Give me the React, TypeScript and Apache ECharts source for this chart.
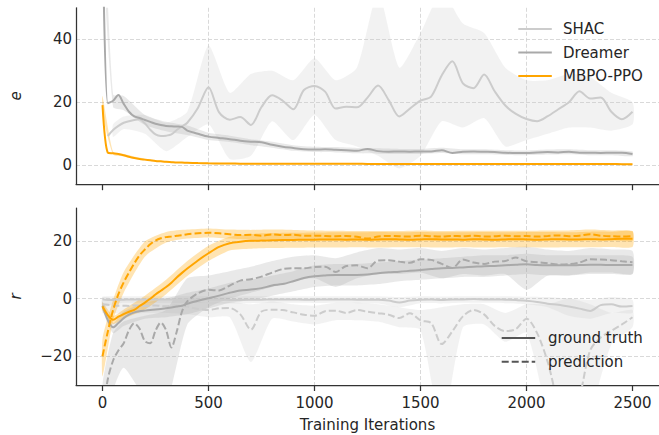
import React, { useEffect, useRef } from "react";
import * as echarts from "echarts";

// ---------- data ----------
const ITERS = [0, 25, 50, 75, 100, 125, 150, 175, 200, 225, 250, 275, 300, 325, 350, 375, 400,
  450, 500, 550, 600, 650, 700, 750, 800, 850, 900, 950, 1000, 1050, 1100, 1150, 1200, 1250, 1300, 1350, 1400, 1450, 1500, 1550, 1600, 1650, 1700, 1750, 1800, 1850, 1900, 1950, 2000, 2050, 2100, 2150, 2200, 2250, 2300, 2350, 2400, 2450, 2500];

const X_TICKS = [0, 500, 1000, 1500, 2000, 2500];
const METHODS = ["SHAC", "Dreamer", "MBPO-PPO"];
const KINDS = ["ground truth", "prediction"];

// top panel: e
const SHAC_E = [null, 9.3, 11.2, 12.5, 13.5, 14.0, 14.4, 14.6, 13.3, 11.3, 9.8, 9.3, 9.4, 9.8, 11.2, 12.4, 13.5,
  18.2, 24.8, 16.8, 14.5, 15.3, 12.8, 18.5, 22.2, 20.5, 17.8, 23.9, 25.2, 23.4, 18.0, 18.6, 18.4, 21.5, 25.3, 20.7, 15.5, 18.0, 20.5, 21.8, 28.5, 33.0, 26.0, 24.5, 28.8, 23.5, 19.0, 16.3, 14.7, 14.0, 15.6, 17.8, 20.0, 23.5, 21.2, 21.5, 17.0, 14.6, 17.0];
const DREAMER_E = [80, 19.7, 20.5, 22.3, 19.5, 17.0, 15.5, 15.0, 14.4, 13.8, 13.2, 12.8, 12.5, 12.4, 12.3, 12.2, 11.0,
  10.0, 9.1, 8.7, 8.3, 7.8, 7.5, 7.3, 6.5, 5.9, 5.5, 5.1, 5.0, 5.1, 4.9, 4.8, 4.6, 5.2, 4.5, 4.3, 4.4, 4.3, 4.4, 4.4, 4.8, 3.9, 4.3, 4.4, 4.3, 4.2, 4.0, 3.9, 3.9, 4.1, 4.2, 4.1, 4.3, 4.0, 4.0, 3.9, 4.0, 4.0, 3.6];
const MBPO_E = [19.1, 4.0, 3.8, 3.6, 3.2, 2.7, 2.3, 2.0, 1.8, 1.6, 1.4, 1.25, 1.1, 1.0, 0.9, 0.85, 0.8,
  0.7, 0.62, 0.58, 0.55, 0.52, 0.5, 0.5, 0.5, 0.5, 0.5, 0.48, 0.48, 0.47, 0.47, 0.46, 0.46, 0.45, 0.45, 0.45, 0.44, 0.44, 0.43, 0.43, 0.43, 0.42, 0.42, 0.42, 0.41, 0.41, 0.41, 0.4, 0.4, 0.4, 0.4, 0.39, 0.39, 0.39, 0.38, 0.38, 0.38, 0.37, 0.37];

// bottom panel: r
const MBPO_R_GT = [-2.8, -5.8, -7.4, -6.3, -5.4, -4.6, -3.9, -2.6, -1.4, -0.1, 1.4, 2.7, 4.0, 5.5, 7.3, 8.9, 10.4,
  13.2, 15.7, 17.9, 19.2, 19.7, 20.0, 20.1, 20.2, 20.3, 20.3, 20.4, 20.4, 20.5, 20.5, 20.4, 20.5, 20.4, 20.5, 20.6, 20.5, 20.4, 20.5, 20.6, 20.5, 20.5, 20.4, 20.6, 20.5, 20.4, 20.5, 20.6, 20.5, 20.4, 20.5, 20.6, 20.5, 20.5, 20.6, 20.5, 20.6, 20.7, 20.7];
const MBPO_R_PRED = [-20, -11.5, -4.0, 1.5, 5.6, 9.0, 12.2, 15.0, 17.0, 18.8, 20.1, 20.9, 21.3, 21.5, 21.8, 22.0, 22.3,
  22.6, 22.8, 22.6, 22.3, 22.0, 22.1, 21.8, 22.2, 22.0, 22.1, 21.8, 21.8, 21.7, 21.6, 21.7, 21.4, 20.8, 21.5, 21.7, 21.6, 21.5, 21.8, 21.6, 21.5, 21.7, 21.6, 21.8, 21.5, 21.6, 21.8, 21.6, 21.7, 21.5, 21.7, 21.9, 21.6, 21.8, 22.3, 21.8, 21.6, 21.5, 21.6];
const DREAMER_R_GT = [-2.5, -7.5, -10.0, -8.5, -6.8, -5.6, -4.8, -4.4, -4.2, -4.0, -3.8, -3.6, -3.4, -3.1, -2.8, -2.5, -1.8,
  -0.8, 0.1, 1.0, 2.0, 2.8, 3.1, 3.6, 4.5, 5.0, 6.0, 7.1, 7.7, 8.0, 8.2, 8.2, 8.2, 8.3, 8.8, 9.1, 9.3, 9.6, 9.9, 10.2, 10.5, 10.6, 10.8, 11.0, 11.2, 11.3, 11.5, 11.7, 11.9, 11.6, 11.5, 11.5, 11.5, 11.6, 11.7, 11.7, 11.6, 11.6, 11.6];
const DREAMER_R_PRED = [-40, -28, -21.5, -18.0, -15.5, -11.0, -8.6, -10.5, -14.8, -15.5, -11.2, -8.3, -11.0, -17.0, -11.5, -4.5, -1.0,
  1.8, 3.0, 2.8, 4.5, 6.2, 6.7, 7.6, 9.0, 10.2, 10.5, 10.5, 10.9, 11.0, 9.2, 11.3, 11.5, 10.5, 13.2, 13.3, 12.8, 12.4, 13.6, 13.4, 12.0, 10.6, 13.5, 12.5, 12.0, 12.8, 13.0, 14.2, 12.9, 12.6, 12.2, 11.8, 11.9, 12.5, 13.6, 13.5, 13.3, 12.9, 12.6];
const SHAC_R_GT = [-0.3, -0.5, -0.5, -0.4, -0.4, -0.3, -0.3, -0.3, -0.3, -0.3, -0.3, -0.3, -0.3, -0.3, -0.3, -0.3, -0.3,
  -0.3, -0.4, -0.4, -0.5, -0.5, -0.4, -0.4, -0.3, -0.3, -0.3, -0.4, -0.4, -0.3, -0.3, -0.3, -0.4, -0.4, -0.4, -0.7, -1.4, -0.7, -0.4, -0.3, -0.5, -0.3, -0.3, -0.2, -0.3, -0.3, -0.4, -0.5, -0.8, -1.2, -1.8, -2.2, -2.8, -3.5, -4.3, -2.3, -2.0, -2.8, -2.6];
const SHAC_R_PRED = [-2.0, -2.2, -2.4, -2.5, -2.5, -2.6, -2.4, -2.5, -2.6, -2.5, -2.4, -2.6, -2.7, -2.5, -2.4, -2.6, -2.8,
  -3.6, -4.0, -3.4, -3.3, -5.5, -10.8, -4.5, -3.9, -4.0, -4.8, -5.6, -6.0, -4.4, -4.2, -5.0, -4.0, -4.6, -5.1, -5.6, -6.8, -5.1, -7.6, -8.5, -15.8, -11.4, -6.2, -4.0, -5.5, -9.5, -11.3, -10.6, -7.0, -12.0, -22.0, -36.0, -42.0, -34.0, -18.0, -13.5, -11.2, -9.0, -6.5];

// shaded bands (lower / upper)
const BAND_ITERS = [0, 50, 100, 200, 300, 400, 500, 600, 700, 800, 900, 1000, 1100, 1200, 1300, 1400, 1500, 1600, 1700, 1800, 1900, 2000, 2100, 2200, 2300, 2400, 2500];

const SHAC_E_LO = [null, 9, 11.5, 10, 4.5, 9, 13, 2, 3, 14, 8, 16, 8, 6, 3, -1, 3, 14, 12, 15, 6, 8, 10, 12, 12, 11, 13];
const SHAC_E_HI = [null, 13, 15.5, 16, 13.5, 17, 38, 23, 29, 30, 27, 34, 27, 31, 55, 31, 42, 55, 45, 42, 31, 27, 27, 29, 28, 23, 20];
const DREAMER_E_LO = [70, 18.5, 17.5, 12.8, 10.8, 9.6, 8.0, 7.4, 6.4, 5.6, 4.6, 4.2, 4.1, 3.8, 3.7, 3.6, 3.6, 3.9, 3.5, 3.5, 3.3, 3.2, 3.4, 3.5, 3.2, 3.2, 2.9];
const DREAMER_E_HI = [90, 22.5, 22, 16, 13.8, 12.6, 10.3, 9.4, 8.3, 7.5, 6.4, 5.9, 5.8, 5.5, 5.4, 5.2, 5.2, 5.6, 5.1, 5.1, 4.8, 4.7, 5.0, 5.1, 4.8, 4.8, 4.4];
const MBPO_E_LO = [16.5, 3.4, 2.8, 1.5, 0.9, 0.65, 0.45, 0.35, 0.35, 0.33, 0.32, 0.3, 0.3, 0.3, 0.28, 0.28, 0.27, 0.27, 0.26, 0.26, 0.25, 0.25, 0.25, 0.24, 0.24, 0.23, 0.23];
const MBPO_E_HI = [22, 4.3, 3.6, 2.1, 1.3, 0.95, 0.8, 0.72, 0.7, 0.68, 0.66, 0.65, 0.63, 0.62, 0.62, 0.6, 0.6, 0.58, 0.58, 0.57, 0.56, 0.55, 0.55, 0.54, 0.53, 0.53, 0.52];

const MBPO_R_GT_LO = [-4.2, -8.8, -7.0, -3.8, 1.5, 7.8, 13.0, 16.7, 17.3, 17.5, 17.6, 17.7, 17.7, 17.8, 17.7, 17.8, 17.8, 17.7, 17.8, 17.7, 17.8, 17.8, 17.7, 17.8, 17.8, 17.9, 17.9];
const MBPO_R_GT_HI = [-1.4, -6.0, -3.8, 1.0, 6.5, 13.0, 18.3, 21.4, 22.4, 22.7, 22.8, 22.9, 23.0, 23.0, 23.1, 23.0, 23.1, 23.0, 23.0, 23.1, 23.0, 23.1, 23.1, 23.0, 23.2, 23.2, 23.3];
const MBPO_R_PRED_LO = [-27, -7.5, 2.0, 14.5, 19.4, 20.8, 21.2, 20.8, 20.4, 20.5, 20.3, 20.2, 20.1, 20.0, 20.0, 20.0, 20.2, 20.0, 20.1, 20.0, 20.1, 20.1, 20.2, 20.1, 20.3, 20.1, 20.0];
const MBPO_R_PRED_HI = [-14, -0.5, 9.2, 19.8, 23.1, 23.9, 24.3, 23.9, 23.8, 23.9, 23.8, 23.6, 23.5, 23.4, 23.4, 23.4, 23.6, 23.4, 23.5, 23.5, 23.5, 23.5, 23.6, 23.6, 23.9, 23.6, 23.4];
const DREAMER_R_GT_LO = [-4, -12, -9.5, -7, -6.5, -5.5, -3.5, -1.5, -0.5, 1, 2.5, 4, 4.5, 4.5, 5, 6, 6.5, 7, 7.5, 7.5, 8, 8.5, 8, 8, 8.5, 8.5, 8.5];
const DREAMER_R_GT_HI = [-1, -8.5, -4.5, -1.5, 0, 2, 3.5, 5.5, 6.5, 8, 9.5, 11.5, 12, 12, 12.5, 13, 13.5, 14, 14.5, 15, 15, 15.5, 15, 15, 15, 15, 14.5];
const DREAMER_R_PRED_LO = [-55, -32, -24, -34, -36, -9, -3, 0, 2, 4, 6, 7, 4, 7, 8.5, 8.5, 9, 7, 8.5, 8, 8.5, 3, 8, 8, 9, 9, 8.5];
const DREAMER_R_PRED_HI = [-30, -12, -8, -6, -4, 7, 8, 9.5, 11, 13, 14.5, 15, 14, 16, 17.5, 17, 17.5, 16.5, 17.5, 17, 17.5, 18, 17, 16.5, 17.5, 17, 16.5];
const SHAC_R_GT_LO = [-3, -2, -1.5, -1.5, -1.5, -1.5, -1.6, -1.7, -1.6, -1.5, -1.5, -1.6, -1.5, -1.6, -1.7, -3, -1.6, -1.7, -1.5, -1.5, -1.6, -2, -3, -6, -7, -5, -5];
const SHAC_R_GT_HI = [0.5, 0.8, 0.8, 0.8, 0.8, 0.8, 0.8, 0.7, 0.8, 0.8, 0.8, 0.8, 0.8, 0.8, 0.8, 0.5, 0.8, 0.7, 0.8, 0.8, 0.8, 0.6, 0.5, 0, -0.5, 0.5, -0.5];
const SHAC_R_PRED_LO = [-5, -5, -5.5, -5, -5, -5.5, -6.5, -6.5, -22, -7, -8, -9, -7.5, -7.5, -8, -10, -11, -45, -10, -9, -15, -12, -40, -55, -40, -16, -10];
const SHAC_R_PRED_HI = [0.5, 0, 0, -0.5, -0.5, -0.5, -1.5, -1, -2, -1, -2, -2.5, -1.5, -1.5, -2, -3, -4, -3, -2, -2, -5, -2, -2, 0, -2, -5, -4];

// ---------- styling ----------
const C_SHAC = "#cccccc";
const C_DREAMER = "#a9a9a9";
const C_MBPO = "#ffa500";
const C_LEG = "#555555";
const METHOD_COLORS = [C_SHAC, C_DREAMER, C_MBPO];
const FONT = "DejaVu Sans";
const TXT = "#262626";
const DASH = [7, 3];

function pairs(xs: number[], ys: (number | null)[]) {
  const out: number[][] = [];
  xs.forEach((x, i) => {
    const y = ys[i];
    if (y !== null && y !== undefined) out.push([x, y]);
  });
  return out;
}

function lineSeries(name: string, ys: (number | null)[], color: string, axis: number, dashed: boolean) {
  return {
    name,
    type: "line",
    xAxisIndex: axis,
    yAxisIndex: axis,
    data: pairs(ITERS, ys),
    symbol: "none",
    showSymbol: false,
    smooth: 0.3,
    clip: true,
    z: 3,
    silent: true,
    lineStyle: { color, width: 2, type: dashed ? DASH : "solid" },
    itemStyle: { color },
    emphasis: { disabled: true },
  };
}

function bandSeries(lo: (number | null)[], hi: (number | null)[], color: string, axis: number, alpha: number) {
  return {
    type: "custom",
    xAxisIndex: axis,
    yAxisIndex: axis,
    clip: true,
    silent: true,
    z: 1,
    data: [[BAND_ITERS[0], 0]],
    renderItem: (params: any, api: any) => {
      const up: number[][] = [];
      const dn: number[][] = [];
      BAND_ITERS.forEach((x, i) => {
        const l = lo[i];
        const h = hi[i];
        if (l !== null && h !== null) {
          up.push(api.coord([x, h]));
          dn.push(api.coord([x, l]));
        }
      });
      const cs = params.coordSys;
      return {
        type: "polygon",
        shape: { points: up.concat(dn.reverse()), smooth: 0.2 },
        style: { fill: color, opacity: alpha },
        clipPath: { type: "rect", shape: { x: cs.x, y: cs.y, width: cs.width, height: cs.height } },
      };
    },
  };
}

const minusFmt = (v: number) => String(v).replace("-", "\u2212");

const gridLine = { show: true, showMinLine: false, showMaxLine: false, lineStyle: { color: "#cfcfcf", width: 0.8, type: [4, 2] } };
const spine = { show: true, onZero: false, lineStyle: { color: "#333333", width: 1.25 } };

function xAxis(idx: number) {
  return {
    type: "value",
    gridIndex: idx,
    min: -125,
    max: 2625,
    splitNumber: 5,
    axisLine: spine,
    axisTick: { show: true, length: 6, inside: false, customValues: X_TICKS, lineStyle: { color: "#333333", width: 1.25 } },
    axisLabel: { show: idx === 1, customValues: X_TICKS, margin: 10, fontSize: 15, fontFamily: FONT, color: TXT, formatter: (v: number) => String(v) },
    splitLine: gridLine,
    name: idx === 1 ? "Training Iterations" : "",
    nameLocation: "middle",
    nameGap: 32,
    nameTextStyle: { fontSize: 15, fontFamily: FONT, color: TXT },
  };
}

function yAxis(idx: number, min: number, max: number, name: string) {
  return {
    type: "value",
    gridIndex: idx,
    min,
    max,
    splitNumber: 3,
    axisLine: spine,
    axisTick: { show: false },
    axisLabel: { showMinLabel: false, showMaxLabel: false, margin: 4, fontSize: 15, fontFamily: FONT, color: TXT, formatter: minusFmt },
    splitLine: gridLine,
    name,
    nameLocation: "middle",
    nameRotate: 90,
    nameGap: 53,
    nameTextStyle: { fontSize: 15, fontFamily: FONT, fontStyle: "italic", color: TXT },
  };
}

// legends drawn as graphic lines + texts
function legendItem(label: string, color: string, dashed: boolean, x: number, y: number, textX: number) {
  return [
    {
      type: "line",
      shape: { x1: x, y1: y, x2: x + 33.5, y2: y },
      style: { stroke: color, lineWidth: 2, lineDash: dashed ? DASH : null },
      silent: true,
      z: 10,
    },
    {
      type: "text",
      x: textX,
      y,
      style: { text: label, fontSize: 15, fontFamily: FONT, fill: TXT, verticalAlign: "middle", align: "left" },
      silent: true,
      z: 10,
    },
  ];
}

const graphics: any[] = [];
METHODS.forEach((m, i) => graphics.push(...legendItem(m, METHOD_COLORS[i], false, 518.3, 29 + 23.5 * i, 563)));
KINDS.forEach((k, i) => graphics.push(...legendItem(k, C_LEG, i === 1, 501.7, 338 + 23.7 * i, 548)));

const option: any = {
  animation: false,
  backgroundColor: "#ffffff",
  textStyle: { fontFamily: FONT },
  grid: [
    { left: 72, top: 7.8, width: 591.5, height: 176.4 },
    { left: 72, top: 208, width: 591.5, height: 177 },
  ],
  xAxis: [xAxis(0), xAxis(1)],
  yAxis: [yAxis(0, -6, 50, "e"), yAxis(1, -30, 31.4, "r")],
  graphic: graphics,
  series: [
    // top bands
    bandSeries(SHAC_E_LO, SHAC_E_HI, C_SHAC, 0, 0.25),
    bandSeries(DREAMER_E_LO, DREAMER_E_HI, C_DREAMER, 0, 0.25),
    bandSeries(MBPO_E_LO, MBPO_E_HI, C_MBPO, 0, 0.3),
    // top lines
    lineSeries(METHODS[0], SHAC_E, C_SHAC, 0, false),
    lineSeries(METHODS[1], DREAMER_E, C_DREAMER, 0, false),
    lineSeries(METHODS[2], MBPO_E, C_MBPO, 0, false),
    // bottom bands
    bandSeries(SHAC_R_GT_LO, SHAC_R_GT_HI, C_SHAC, 1, 0.25),
    bandSeries(SHAC_R_PRED_LO, SHAC_R_PRED_HI, C_SHAC, 1, 0.25),
    bandSeries(DREAMER_R_GT_LO, DREAMER_R_GT_HI, C_DREAMER, 1, 0.25),
    bandSeries(DREAMER_R_PRED_LO, DREAMER_R_PRED_HI, C_DREAMER, 1, 0.25),
    bandSeries(MBPO_R_GT_LO, MBPO_R_GT_HI, C_MBPO, 1, 0.3),
    bandSeries(MBPO_R_PRED_LO, MBPO_R_PRED_HI, C_MBPO, 1, 0.3),
    // bottom lines
    lineSeries("SHAC ground truth", SHAC_R_GT, C_SHAC, 1, false),
    lineSeries("SHAC prediction", SHAC_R_PRED, C_SHAC, 1, true),
    lineSeries("Dreamer ground truth", DREAMER_R_GT, C_DREAMER, 1, false),
    lineSeries("Dreamer prediction", DREAMER_R_PRED, C_DREAMER, 1, true),
    lineSeries("MBPO-PPO ground truth", MBPO_R_GT, C_MBPO, 1, false),
    lineSeries("MBPO-PPO prediction", MBPO_R_PRED, C_MBPO, 1, true),
  ],
};

export default function App() {
  const ref = useRef<HTMLDivElement>(null);
  useEffect(() => {
    document.body.style.margin = "0";
    const chart = echarts.init(ref.current!, null, { renderer: "svg" });
    chart.setOption(option);
    return () => chart.dispose();
  }, []);
  return <div ref={ref} style={{ width: 659, height: 435, position: "absolute", left: 0, top: 0 }} />;
}
